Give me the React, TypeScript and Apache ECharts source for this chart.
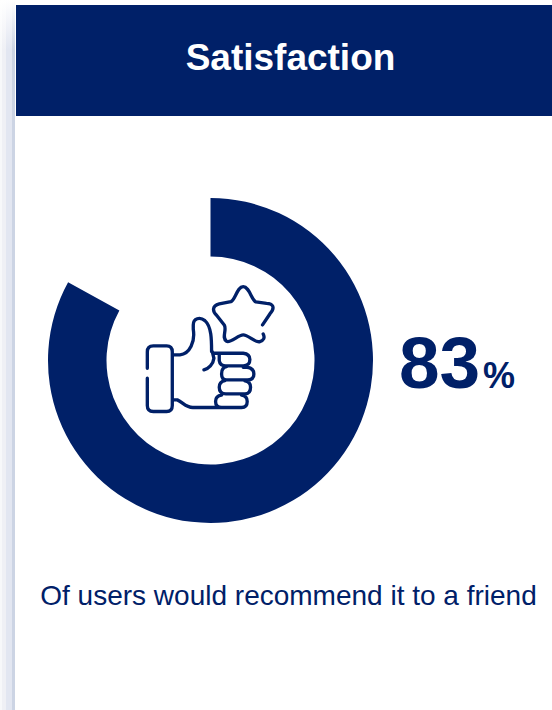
import React, { useEffect, useRef } from "react";
import * as echarts from "echarts";

const title = "Satisfaction";
const caption = "Of users would recommend it to a friend";
const sliceNames = ["Would recommend", "Would not"];
const sliceValues = [83, 17];
const valueLabel = "83";
const unitLabel = "%";
const NAVY = "#002068";

const cuff = "M52 295 L52 246 Q52 228 70 228 L110 228 Q127 228 127 246 L127 407 Q127 425 110 425 L70 425 Q52 425 52 407 L52 325";
const thumb = "M127 255 L150 255 C180 252 196 215 190 178 L190 165 C190 145 210 140 225 152 C245 170 245 210 245 245 L252 250 L340 250 M247 245 L252 265 C250 283 236 296 222 300";
const fingers = "M268 252 L268 272 Q270 288 288 288 L340 288 Q360 288 360 269 Q360 252 340 250 M340 292 L352 292 Q372 295 372 312 Q372 330 352 330 L290 330 Q275 330 275 312 Q275 292 290 290 M345 333 Q362 335 362 352 Q362 372 345 372 L288 372 Q268 372 268 352 Q268 335 285 332 M335 376 Q352 378 352 395 Q352 413 335 413 L275 413 Q257 413 257 395 Q257 378 275 376";
const wrist = "M127 390 L142 390 C160 398 168 414 190 413 L275 413";
const star = "M398 165 L420 132 C438 112 428 100 410 100 L378 96 C365 90 358 50 340 50 C322 50 316 90 303 95 L268 102 C245 108 248 125 260 136 L283 165 C292 178 274 205 290 214 C302 220 325 195 340 195 C356 195 376 220 390 215 C401 212 406 204 400 192";

echarts.graphic.registerShape("thumbIcon", echarts.graphic.extendPath(cuff + " " + thumb + " " + fingers + " " + wrist + " " + star, {}));

export default function App() {
  const ref = useRef<HTMLDivElement>(null);
  useEffect(() => {
    document.body.style.margin = "0";
    const chart = echarts.init(ref.current!, undefined, { renderer: "svg" });
    const sideFade = (c: string) => ({
      type: "linear", x: 0, y: 0, x2: 0, y2: 1,
      colorStops: [
        { offset: 0, color: "#ffffff" },
        { offset: 0.07, color: c },
        { offset: 1, color: c },
      ],
    });
    const strip = (x: number, w: number, c: string) => ({
      type: "rect",
      shape: { x, y: 0, width: w, height: 710 },
      style: { fill: sideFade(c) },
      silent: true,
    });
    chart.setOption({
      animation: false,
      backgroundColor: "#ffffff",
      series: [
        {
          type: "pie",
          silent: true,
          center: [210.5, 360.5],
          radius: [104, 162.5],
          startAngle: 90,
          clockwise: true,
          label: { show: false },
          labelLine: { show: false },
          emphasis: { disabled: true },
          data: sliceNames.map((name, i) => ({
            name,
            value: sliceValues[i],
            itemStyle: { color: i === 0 ? NAVY : "rgba(0,0,0,0)" },
          })),
        },
      ],
      graphic: [
        strip(0, 2, "#f7f8fa"),
        strip(2, 4, "#eff0f5"),
        strip(6, 6, "#e2e6f1"),
        strip(12, 3, "#ccd4e4"),
        {
          type: "rect",
          shape: { x: 16, y: 5, width: 536, height: 111 },
          style: { fill: NAVY },
        },
        {
          type: "text",
          x: 290.5, y: 57.5,
          style: { text: title, fill: "#ffffff", font: "bold 37px 'Liberation Sans'", align: "center", verticalAlign: "middle" },
        },
        {
          type: "thumbIcon",
          x: 130, y: 270, scaleX: 1 / 3, scaleY: 1 / 3,
          style: { fill: "none", stroke: NAVY, lineWidth: 10, lineCap: "round", lineJoin: "round" },
        },
        {
          type: "text",
          x: 399, y: 362,
          style: { text: valueLabel, fill: NAVY, font: "bold 73px 'Liberation Sans'", align: "left", verticalAlign: "middle" },
        },
        {
          type: "text",
          x: 483, y: 375,
          style: { text: unitLabel, fill: NAVY, font: "bold 36px 'Liberation Sans'", align: "left", verticalAlign: "middle" },
        },
        {
          type: "text",
          x: 288.5, y: 595,
          style: { text: caption, fill: NAVY, font: "28px 'Liberation Sans'", align: "center", verticalAlign: "middle" },
        },
      ],
    });
    return () => chart.dispose();
  }, []);
  return <div ref={ref} style={{ width: 552, height: 710 }} />;
}
